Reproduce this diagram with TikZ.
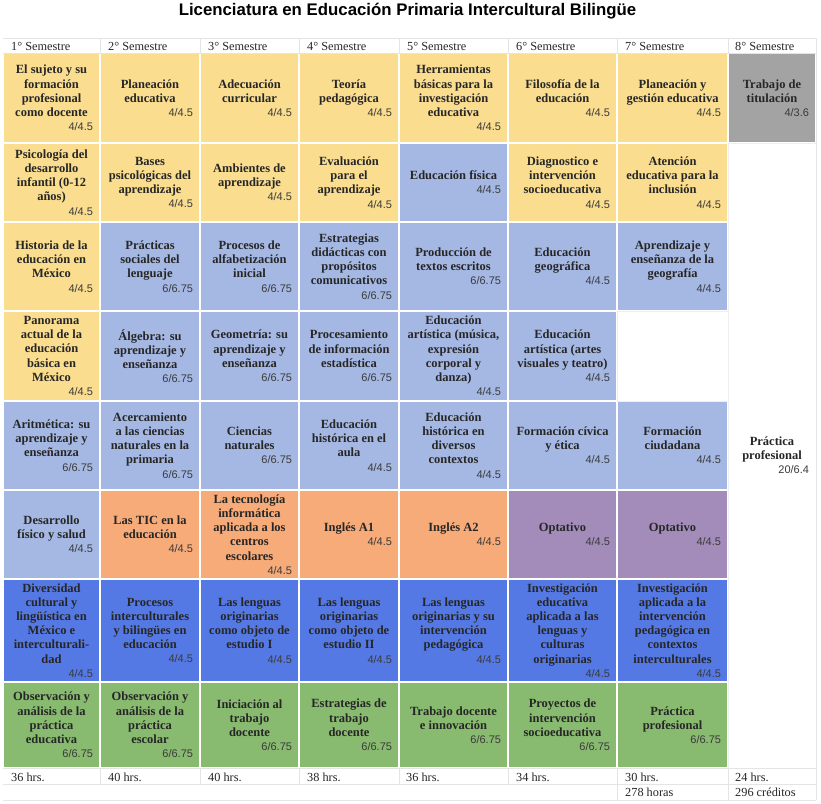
\documentclass[tikz,border=0pt]{standalone}
\usepackage{fontspec}
\setmainfont{Liberation Serif}
\setsansfont{Liberation Sans}
\newfontfamily\numfam{Liberation Sans}
\definecolor{yel}{HTML}{FADD8F}
\definecolor{lbl}{HTML}{A5B8E3}
\definecolor{dbl}{HTML}{5579E4}
\definecolor{org}{HTML}{F7AB79}
\definecolor{pur}{HTML}{A38CBA}
\definecolor{grn}{HTML}{88BA70}
\definecolor{gry}{HTML}{A3A3A3}
\definecolor{txt}{HTML}{262626}
\definecolor{numc}{HTML}{3A3A3A}
\definecolor{gridc}{HTML}{E4E4E4}
\definecolor{faint}{HTML}{EEEEEE}
\newcommand\titlefont{\bfseries\fontsize{12.5}{14.2}\selectfont}
\newcommand\numfont{\mdseries\numfam\fontsize{11}{14.2}\selectfont}
\tikzset{
  cellbox/.style={rectangle, inner sep=0pt, outer sep=0pt, text=txt, draw=none},
  grid/.style={draw=gridc, line width=0.8pt},
  faintline/.style={draw=faint, line width=0.8pt},
  hdr/.style={inner sep=0pt, anchor=base west, text=txt, font=\fontsize{12.3}{14}\selectfont},
}
\newcommand\course[8]{%
  \pgfmathsetmacro\crsW{#3-#2-1.2}%
  \pgfmathsetmacro\crsH{#5-#4-1.2}%
  \pgfmathsetmacro\crsX{(#2+#3)/2}%
  \pgfmathsetmacro\crsY{(#4+#5)/2}%
  \pgfmathsetmacro\crsT{#3-#2-14}%
  \node[cellbox, fill=#6, minimum width=\crsW pt, minimum height=\crsH pt] (#1) at (\crsX,\crsY)
   {\parbox{\crsT pt}{\centering\titlefont #7\par\raggedleft\numfont\textcolor{numc}{#8}\par}};%
}
\begin{document}
\begin{tikzpicture}[x=1pt,y=-1pt]
\fill[white] (0,0) rectangle (821,803);
\useasboundingbox (0,0) rectangle (821,803);

% title
\node[inner sep=0pt, anchor=base, text=black, font=\sffamily\bfseries\fontsize{16.8}{20}\selectfont] (title) at (407.5,16) {Licenciatura en Educación Primaria Intercultural Bilingüe};

% grid lines (header, footer, borders)
\draw[grid] (3,38) -- (816,38);
\draw[grid] (3,53) -- (816,53);
\foreach \xx in {100,200,299,399,508,617,728,816} \draw[grid] (\xx,38) -- (\xx,53);
\draw[grid] (3,768) -- (816,768);
\draw[grid] (3,784) -- (816,784);
\draw[grid] (3,800) -- (816,800);
\foreach \xx in {100,200,299,399,508,617,728,816} \draw[grid] (\xx,768) -- (\xx,784);
\foreach \xx in {617,728,816} \draw[grid] (\xx,784) -- (\xx,800);
\draw[grid] (816,38) -- (816,800);
\draw[faintline] (728,143) -- (728,768);
\draw[faintline] (728,143) -- (816,143);
\draw[faintline] (617,311) rectangle (728,401);

% headers
\node[hdr] (h1) at (11,50) {1° Semestre};
\node[hdr] (h2) at (108,50) {2° Semestre};
\node[hdr] (h3) at (208,50) {3° Semestre};
\node[hdr] (h4) at (307,50) {4° Semestre};
\node[hdr] (h5) at (407,50) {5° Semestre};
\node[hdr] (h6) at (516,50) {6° Semestre};
\node[hdr] (h7) at (625,50) {7° Semestre};
\node[hdr] (h8) at (735,50) {8° Semestre};

% column 1
\course{a1}{3}{100}{53}{143}{yel}{El sujeto y su\\formación\\profesional\\como docente}{4/4.5}
\course{a2}{3}{100}{143}{222}{yel}{Psicología del\\desarrollo\\infantil (0-12\\años)}{4/4.5}
\course{a3}{3}{100}{222}{311}{yel}{Historia de la\\educación en\\México}{4/4.5}
\course{a4}{3}{100}{311}{401}{yel}{Panorama\\actual de la\\educación\\básica en\\México}{4/4.5}
\course{a5}{3}{100}{401}{490}{lbl}{Aritmética: su\\aprendizaje y\\enseñanza}{6/6.75}
\course{a6}{3}{100}{490}{579}{lbl}{Desarrollo\\físico y salud}{4/4.5}
\course{a7}{3}{100}{579}{682}{dbl}{Diversidad\\cultural y\\lingüística en\\México e\\interculturali-\\dad}{4/4.5}
\course{a8}{3}{100}{682}{768}{grn}{Observación y\\análisis de la\\práctica\\educativa}{6/6.75}

% column 2
\course{b1}{100}{200}{53}{143}{yel}{Planeación\\educativa}{4/4.5}
\course{b2}{100}{200}{143}{222}{yel}{Bases\\psicológicas del\\aprendizaje}{4/4.5}
\course{b3}{100}{200}{222}{311}{lbl}{Prácticas\\sociales del\\lenguaje}{6/6.75}
\course{b4}{100}{200}{311}{401}{lbl}{Álgebra: su\\aprendizaje y\\enseñanza}{6/6.75}
\course{b5}{100}{200}{401}{490}{lbl}{Acercamiento\\a las ciencias\\naturales en la\\primaria}{6/6.75}
\course{b6}{100}{200}{490}{579}{org}{Las TIC en la\\educación}{4/4.5}
\course{b7}{100}{200}{579}{682}{dbl}{Procesos\\interculturales\\y bilingües en\\educación}{4/4.5}
\course{b8}{100}{200}{682}{768}{grn}{Observación y\\análisis de la\\práctica\\escolar}{6/6.75}

% column 3
\course{c1}{200}{299}{53}{143}{yel}{Adecuación\\curricular}{4/4.5}
\course{c2}{200}{299}{143}{222}{yel}{Ambientes de\\aprendizaje}{4/4.5}
\course{c3}{200}{299}{222}{311}{lbl}{Procesos de\\alfabetización\\inicial}{6/6.75}
\course{c4}{200}{299}{311}{401}{lbl}{Geometría: su\\aprendizaje y\\enseñanza}{6/6.75}
\course{c5}{200}{299}{401}{490}{lbl}{Ciencias\\naturales}{6/6.75}
\course{c6}{200}{299}{490}{579}{org}{La tecnología\\informática\\aplicada a los\\centros\\escolares}{4/4.5}
\course{c7}{200}{299}{579}{682}{dbl}{Las lenguas\\originarias\\como objeto de\\estudio I}{4/4.5}
\course{c8}{200}{299}{682}{768}{grn}{Iniciación al\\trabajo\\docente}{6/6.75}

% column 4
\course{d1}{299}{399}{53}{143}{yel}{Teoría\\pedagógica}{4/4.5}
\course{d2}{299}{399}{143}{222}{yel}{Evaluación\\para el\\aprendizaje}{4/4.5}
\course{d3}{299}{399}{222}{311}{lbl}{Estrategias\\didácticas con\\propósitos\\comunicativos}{6/6.75}
\course{d4}{299}{399}{311}{401}{lbl}{Procesamiento\\de información\\estadística}{6/6.75}
\course{d5}{299}{399}{401}{490}{lbl}{Educación\\histórica en el\\aula}{4/4.5}
\course{d6}{299}{399}{490}{579}{org}{Inglés A1}{4/4.5}
\course{d7}{299}{399}{579}{682}{dbl}{Las lenguas\\originarias\\como objeto de\\estudio II}{4/4.5}
\course{d8}{299}{399}{682}{768}{grn}{Estrategias de\\trabajo\\docente}{6/6.75}

% column 5
\course{e1}{399}{508}{53}{143}{yel}{Herramientas\\básicas para la\\investigación\\educativa}{4/4.5}
\course{e2}{399}{508}{143}{222}{lbl}{Educación física}{4/4.5}
\course{e3}{399}{508}{222}{311}{lbl}{Producción de\\textos escritos}{6/6.75}
\course{e4}{399}{508}{311}{401}{lbl}{Educación\\artística (música,\\expresión\\corporal y\\danza)}{4/4.5}
\course{e5}{399}{508}{401}{490}{lbl}{Educación\\histórica en\\diversos\\contextos}{4/4.5}
\course{e6}{399}{508}{490}{579}{org}{Inglés A2}{4/4.5}
\course{e7}{399}{508}{579}{682}{dbl}{Las lenguas\\originarias y su\\intervención\\pedagógica}{4/4.5}
\course{e8}{399}{508}{682}{768}{grn}{Trabajo docente\\e innovación}{6/6.75}

% column 6
\course{f1}{508}{617}{53}{143}{yel}{Filosofía de la\\educación}{4/4.5}
\course{f2}{508}{617}{143}{222}{yel}{Diagnostico e\\intervención\\socioeducativa}{4/4.5}
\course{f3}{508}{617}{222}{311}{lbl}{Educación\\geográfica}{4/4.5}
\course{f4}{508}{617}{311}{401}{lbl}{Educación\\artística (artes\\visuales y teatro)}{4/4.5}
\course{f5}{508}{617}{401}{490}{lbl}{Formación cívica\\y ética}{4/4.5}
\course{f6}{508}{617}{490}{579}{pur}{Optativo}{4/4.5}
\course{f7}{508}{617}{579}{682}{dbl}{Investigación\\educativa\\aplicada a las\\lenguas y\\culturas\\originarias}{4/4.5}
\course{f8}{508}{617}{682}{768}{grn}{Proyectos de\\intervención\\socioeducativa}{6/6.75}

% column 7
\course{g1}{617}{728}{53}{143}{yel}{Planeación y\\gestión educativa}{4/4.5}
\course{g2}{617}{728}{143}{222}{yel}{Atención\\educativa para la\\inclusión}{4/4.5}
\course{g3}{617}{728}{222}{311}{lbl}{Aprendizaje y\\enseñanza de la\\geografía}{4/4.5}
\course{g5}{617}{728}{401}{490}{lbl}{Formación\\ciudadana}{4/4.5}
\course{g6}{617}{728}{490}{579}{pur}{Optativo}{4/4.5}
\course{g7}{617}{728}{579}{682}{dbl}{Investigación\\aplicada a la\\intervención\\pedagógica en\\contextos\\interculturales}{4/4.5}
\course{g8}{617}{728}{682}{768}{grn}{Práctica\\profesional}{6/6.75}

% column 8
\course{k1}{728}{816}{53}{143}{gry}{Trabajo de\\titulación}{4/3.6}
\course{k2}{728}{816}{143}{768}{white}{Práctica\\profesional}{20/6.4}

% hours
\node[hdr] (r1) at (11,781) {36 hrs.};
\node[hdr] (r2) at (108,781) {40 hrs.};
\node[hdr] (r3) at (208,781) {40 hrs.};
\node[hdr] (r4) at (307,781) {38 hrs.};
\node[hdr] (r5) at (406,781) {36 hrs.};
\node[hdr] (r6) at (516,781) {34 hrs.};
\node[hdr] (r7) at (625,781) {30 hrs.};
\node[hdr] (r8) at (735,781) {24 hrs.};
\node[hdr] (t7) at (625,796) {278 horas};
\node[hdr] (t8) at (735,796) {296 créditos};
\end{tikzpicture}
\end{document}
